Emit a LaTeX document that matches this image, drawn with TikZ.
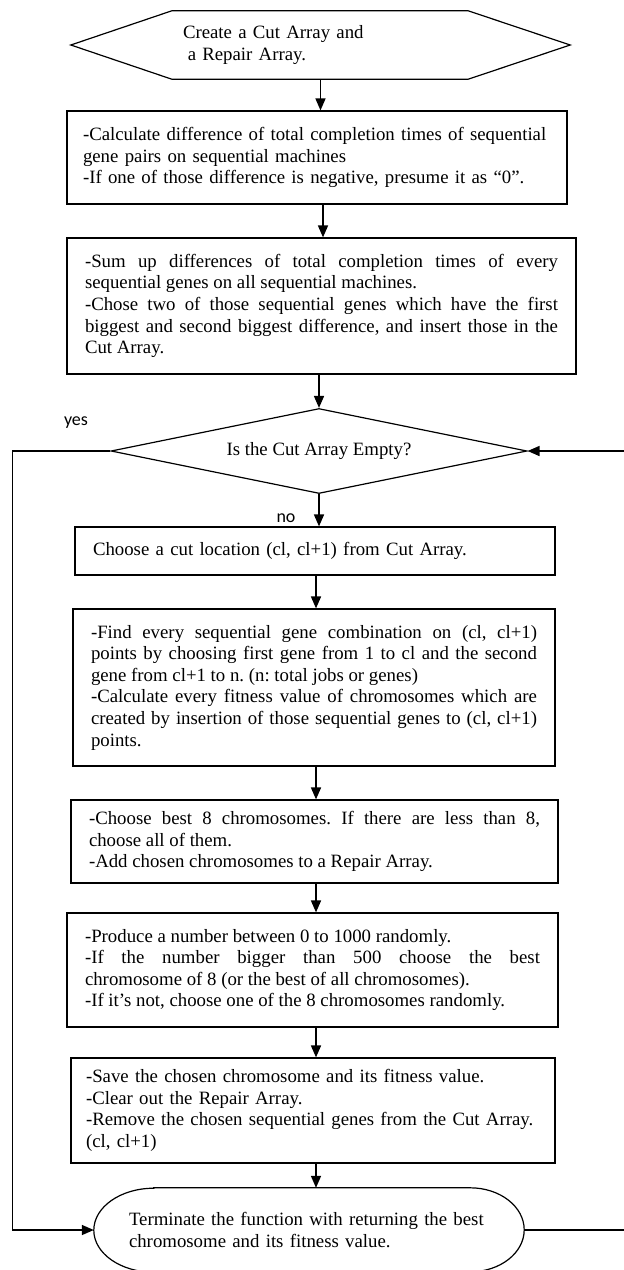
\documentclass[tikz,border=0pt]{standalone}
\usepackage{fontspec}
\setmainfont{Liberation Serif}
\newfontfamily\labfont{Carlito}
\usetikzlibrary{positioning,arrows.meta,shapes.geometric}
\frenchspacing

\begin{document}
\begin{tikzpicture}[x=1pt, y=-1pt,
  txt/.style={font=\fontsize{18.8}{21.6}\selectfont},
  box/.style={draw, line width=1.2pt, txt, align=justify, inner xsep=18pt, inner ysep=0pt},
  dec/.style={draw, line width=1.2pt, txt, diamond, aspect=4.9, inner sep=0pt, minimum width=416pt, minimum height=85pt},
  outline/.style={draw, line width=1.2pt},
  arr/.style={-{Triangle[length=12pt, width=10pt]}, line width=1.6pt},
  lab/.style={font=\labfont\fontsize{18}{20}\selectfont, inner sep=0pt}
]
\path[use as bounding box, fill=white] (0,0) rectangle (624,1270);
\coordinate (spine) at (316,0);
% start hexagon
\node[txt, align=left, text width=275pt, minimum width=499pt, minimum height=68pt, inner sep=0pt] (start) at (320.5,45)
  {Create a Cut Array and\\\hspace*{4.75pt}a Repair Array.};
\draw[outline] (start.west) -- ([xshift=101pt]start.north west) -- ([xshift=-102pt]start.north east) -- (start.east)
  -- ([xshift=-102pt]start.south east) -- ([xshift=101pt]start.south west) -- cycle;
% process boxes
\node[box, align=left, inner xsep=16pt, text width=468pt, minimum width=500pt, minimum height=93pt] (box1) at (317,157.5)
  {-Calculate difference of total completion times of sequential\\gene pairs on sequential machines\\-If one of those difference is negative, presume it as “0”.};
\node[box, text width=473pt, minimum width=509pt, minimum height=136pt] (box2) at (321.5,306)
  {-Sum up differences of total completion times of every\linebreak sequential genes on all sequential machines.\\-Chose two of those sequential genes which have the first\linebreak biggest and second biggest difference, and insert those in the\linebreak Cut Array.};
\node[dec] (check) at (319,451) {Is the Cut Array Empty?};
\node[box, align=left, text width=444pt, minimum width=480pt, minimum height=48pt] (box3) at (315,551)
  {Choose a cut location (cl, cl+1) from Cut Array.};
\node[box, text width=446pt, minimum width=482pt, minimum height=157pt] (box4) at (314,687.5)
  {-Find every sequential gene combination on (cl, cl+1)\linebreak points by choosing first gene from 1 to cl and the second\linebreak gene from cl+1 to n. (n: total jobs or genes)\\-Calculate every fitness value of chromosomes which are\linebreak created by insertion of those sequential genes to (cl, cl+1)\linebreak points.};
\node[box, text width=451pt, minimum width=487pt, minimum height=83pt] (box5) at (314.5,841.5)
  {-Choose best 8 chromosomes. If there are less than 8,\linebreak choose all of them.\\-Add chosen chromosomes to a Repair Array.};
\node[box, text width=455pt, minimum width=491pt, minimum height=114pt] (box6) at (312.5,970)
  {-Produce a number between 0 to 1000 randomly.\\-If the number bigger than 500 choose the best\linebreak chromosome of 8 (or the best of all chromosomes).\\-If it’s not, choose one of the 8 chromosomes randomly.};
\node[box, align=left, inner xsep=15pt, text width=454pt, minimum width=484pt, minimum height=105pt] (box7) at (313,1110.5)
  {-Save the chosen chromosome and its fitness value.\\-Clear out the Repair Array.\\-Remove the chosen sequential genes from the Cut Array.\\(cl, cl+1)};
% terminal
\node[txt, align=left, text width=360pt, minimum width=430pt, minimum height=84pt, inner sep=0pt] (stop) at (309,1230)
  {Terminate the function with returning the best\\chromosome and its fitness value.};
\draw[outline] ([xshift=60pt]stop.north west) -- ([xshift=-54pt]stop.north east)
  arc[start angle=90, end angle=-90, x radius=54pt, y radius=42pt] -- ([xshift=60pt]stop.south west)
  arc[start angle=270, end angle=90, x radius=60pt, y radius=42pt] -- cycle;
% connectors
\draw[arr] (start.south) -- (start.south |- box1.north);
\draw[arr] ([xshift=6pt]box1.south) -- ([xshift=6pt]box1.south |- box2.north);
\draw[arr] (check.north |- box2.south) -- (check.north);
\draw[arr] (check.south) -- (check.south |- box3.north);
\foreach \a/\b in {box3/box4,box4/box5,box5/box6,box6/box7,box7/stop} \draw[arr] (\a.south -| spine) -- (\b.north -| spine);
\draw[arr] (check.west) -- ++(-98,0) |- (stop.west);
\draw[arr] (stop.east) -- ++(116,0) |- (check.east);
\node[lab] (yes) at (76,423) {yes};
\node[lab] (no) at (286,518) {no};
\end{tikzpicture}
\end{document}
